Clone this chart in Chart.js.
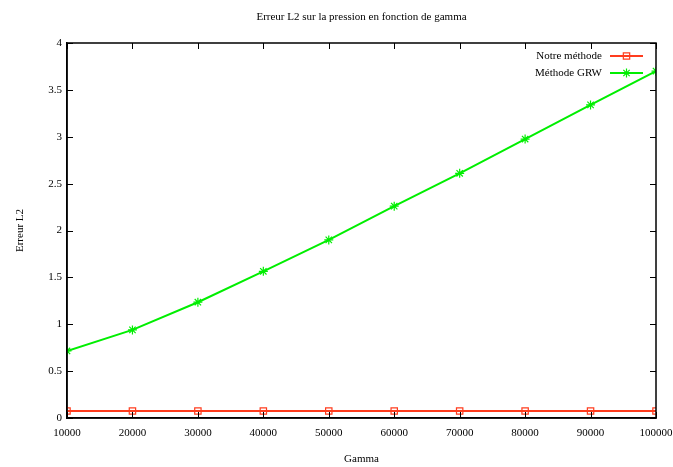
<!DOCTYPE html>
<html>
<head>
<meta charset="utf-8">
<script src="https://cdn.jsdelivr.net/npm/chart.js@4"></script>
<style>
  html, body { margin: 0; padding: 0; background: #fff; }
  #wrap { width: 673px; height: 467px; }
</style>
</head>
<body>
<div id="wrap"><canvas id="chart"></canvas></div>
<script>
const GAMMA = [10000, 20000, 30000, 40000, 50000, 60000, 70000, 80000, 90000, 100000];
const NOTRE = [0.075, 0.075, 0.075, 0.075, 0.075, 0.075, 0.075, 0.075, 0.075, 0.075];
const GRW = [0.715, 0.94, 1.235, 1.565, 1.90, 2.26, 2.61, 2.975, 3.34, 3.70];
const SERIES_NAMES = ['Notre méthode', 'Méthode GRW'];
const TITLE = 'Erreur L2 sur la pression en fonction de gamma';

const RED = '#ff3c1e';
const GREEN = '#00ee00';
const FONT = { family: '"Liberation Serif", "DejaVu Serif", serif', size: 11 };

// ── Inward ticks on all four sides + top/right frame ──
const frameTicks = {
  id: 'frameTicks',
  afterDatasetsDraw(chart) {
    const { ctx, chartArea: a, scales: { x, y } } = chart;
    const len = 6;
    ctx.save();
    ctx.strokeStyle = '#000';
    ctx.lineWidth = 1;
    x.ticks.forEach(t => {
      const px = Math.round(x.getPixelForValue(t.value)) + 0.5;
      ctx.beginPath();
      ctx.moveTo(px, a.bottom); ctx.lineTo(px, a.bottom - len);
      ctx.moveTo(px, a.top); ctx.lineTo(px, a.top + len);
      ctx.stroke();
    });
    y.ticks.forEach(t => {
      const py = Math.round(y.getPixelForValue(t.value)) + 0.5;
      ctx.beginPath();
      ctx.moveTo(a.left, py); ctx.lineTo(a.left + len, py);
      ctx.moveTo(a.right, py); ctx.lineTo(a.right - len, py);
      ctx.stroke();
    });
    ctx.lineWidth = 1.5;
    ctx.strokeRect(a.left, a.top, a.right - a.left, a.bottom - a.top);
    ctx.restore();
  }
};

// ── Title centred on the plot + gnuplot-style key ──
const gnuKey = {
  id: 'gnuKey',
  afterDraw(chart) {
    const { ctx, chartArea: a } = chart;
    ctx.save();
    ctx.font = `${FONT.size}px ${FONT.family}`;
    ctx.fillStyle = '#000';
    ctx.textAlign = 'center';
    ctx.textBaseline = 'middle';
    ctx.fillText(TITLE, (a.left + a.right) / 2, 17);

    const textRight = a.right - 54;
    const x0 = a.right - 46, x1 = a.right - 13;
    ctx.textAlign = 'right';
    chart.data.datasets.forEach((ds, i) => {
      const yy = a.top + 13 + i * 17;
      ctx.fillStyle = '#000';
      ctx.fillText(ds.label, textRight, yy);
      ctx.strokeStyle = ds.borderColor;
      ctx.lineWidth = ds.borderWidth;
      ctx.beginPath();
      ctx.moveTo(x0, yy); ctx.lineTo(x1, yy);
      ctx.stroke();
      ctx.fillStyle = 'rgba(0,0,0,0)';
      ctx.lineWidth = ds.pointBorderWidth;
      Chart.helpers.drawPoint(ctx, {
        pointStyle: ds.pointStyle, radius: ds.pointRadius, rotation: 0,
        borderWidth: ds.pointBorderWidth
      }, (x0 + x1) / 2, yy);
    });
    ctx.restore();
  }
};

new Chart(document.getElementById('chart'), {
  type: 'line',
  data: {
    labels: GAMMA,
    datasets: [
      {
        label: SERIES_NAMES[0],
        data: GAMMA.map((g, i) => ({ x: g, y: NOTRE[i] })),
        borderColor: RED, backgroundColor: 'rgba(0,0,0,0)',
        borderWidth: 2, pointStyle: 'rect', pointRadius: 4.5,
        pointBorderColor: RED, pointBackgroundColor: 'rgba(0,0,0,0)',
        pointBorderWidth: 1.2, tension: 0,
      },
      {
        label: SERIES_NAMES[1],
        data: GAMMA.map((g, i) => ({ x: g, y: GRW[i] })),
        borderColor: GREEN, backgroundColor: 'rgba(0,0,0,0)',
        borderWidth: 2, pointStyle: 'star', pointRadius: 4.5,
        pointBorderColor: GREEN, pointBorderWidth: 1.2, tension: 0,
      },
    ],
  },
  options: {
    responsive: true,
    maintainAspectRatio: false,
    animation: false,
    layout: { padding: { right: 17, left: 0, bottom: 0, top: 43 } },
    plugins: {
      legend: { display: false },
      tooltip: { enabled: false },
      title: { display: false },
    },
    scales: {
      x: {
        type: 'linear', min: 10000, max: 100000,
        grid: { display: false, drawTicks: false },
        border: { display: true, color: '#000', width: 1.5 },
        ticks: { stepSize: 10000, color: '#000', font: FONT, padding: 9, maxRotation: 0,
                 callback: v => String(v) },
        title: { display: true, text: 'Gamma', color: '#000', font: FONT, padding: { top: 4, bottom: 1 } },
        afterFit: s => { s.height = 49; s.paddingRight = 0; s.paddingLeft = 0; },
      },
      y: {
        min: 0, max: 4,
        grid: { display: false, drawTicks: false },
        border: { display: true, color: '#000', width: 1.5 },
        ticks: { stepSize: 0.5, color: '#000', font: FONT, padding: 5,
                 callback: v => String(v) },
        title: { display: true, text: 'Erreur L2', color: '#000', font: FONT, padding: { top: 14, bottom: 4 } },
        afterFit: s => { s.width = 67; s.paddingTop = 0; s.paddingBottom = 0; },
      },
    },
  },
  plugins: [frameTicks, gnuKey],
});
</script>
</body>
</html>
